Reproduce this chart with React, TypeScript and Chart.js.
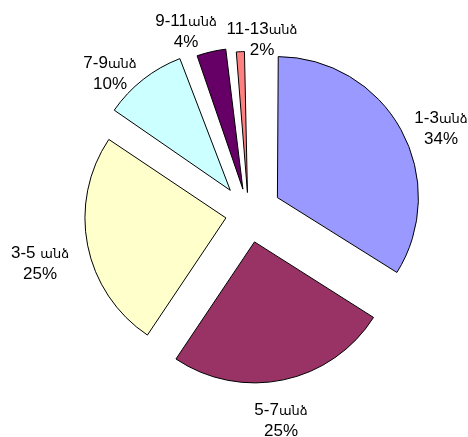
import React, { useEffect, useRef } from "react";
import { Chart, registerables } from "chart.js";

Chart.register(...registerables);

// ---- data ----
const categories = ["1-3անձ", "5-7անձ", "3-5 անձ", "7-9անձ", "9-11անձ", "11-13անձ"];
const values = [34, 25.4, 25, 10, 4, 1.6];
const colors = ["#9999FF", "#993366", "#FFFFCC", "#CCFFFF", "#660066", "#FF8080"];
// explosion distance of each slice (px)
const explode = [33, 29, 23, 29.5, 25, 21];
// label block centres (px, canvas coords)
const labelX = [441, 281, 40, 110, 186, 262];
const labelY = [127, 419, 262, 72, 30, 38];

const OFFSET_SCALE = 4; // chart.js ArcElement translates by offset / 4
const FONT = '17px "Liberation Sans", Arial, sans-serif';
const ARM_FONT = '13px "DejaVu Sans", sans-serif';
const LINE_H = 21;

const explodeFix = {
  id: "explodeFix",
  beforeDatasetsDraw(chart: any) {
    const meta = chart.getDatasetMeta(0);
    const R = meta.controller.outerRadius;
    meta.data.forEach((arc: any) => {
      const o = ((arc.options && arc.options.offset) || 0) / OFFSET_SCALE;
      const fix = 1 - Math.sin(Math.min(Math.PI, arc.circumference || 0));
      arc.outerRadius = R - o * fix;
    });
  },
};

function drawMixed(ctx: CanvasRenderingContext2D, text: string, cx: number, cy: number) {
  const parts = text.split(/([\u0530-\u058F]+)/).filter((p) => p.length > 0);
  const segs = parts.map((p) => {
    const font = /[\u0530-\u058F]/.test(p) ? ARM_FONT : FONT;
    ctx.font = font;
    return { p, font, w: ctx.measureText(p).width };
  });
  const total = segs.reduce((a, s) => a + s.w, 0);
  let x = cx - total / 2;
  ctx.textAlign = "left";
  ctx.textBaseline = "alphabetic";
  segs.forEach((s) => {
    ctx.font = s.font;
    ctx.fillText(s.p, x, cy + 6);
    x += s.w;
  });
}

const pieLabels = {
  id: "pieLabels",
  afterDraw(chart: any) {
    const ctx = chart.ctx;
    const total = values.reduce((a, b) => a + b, 0);
    ctx.save();
    ctx.fillStyle = "#000";
    categories.forEach((c, i) => {
      const pct = Math.round((values[i] / total) * 100) + "%";
      drawMixed(ctx, c, labelX[i], labelY[i] - LINE_H / 2);
      drawMixed(ctx, pct, labelX[i], labelY[i] + LINE_H / 2);
    });
    ctx.restore();
  },
};

export default function App() {
  const ref = useRef<HTMLCanvasElement>(null);
  useEffect(() => {
    if (!ref.current) return;
    const chart = new Chart(ref.current, {
      type: "pie",
      data: {
        labels: categories,
        datasets: [
          {
            data: values,
            backgroundColor: colors,
            borderColor: "#000",
            borderWidth: 1,
            offset: explode.map((d) => d * OFFSET_SCALE),
            radius: 141,
          } as any,
        ],
      },
      options: {
        responsive: false,
        animation: false,
        events: [],
        layout: { padding: { left: 29, right: 0, top: 0, bottom: 10 } },
        plugins: { legend: { display: false }, tooltip: { enabled: false } },
      },
      plugins: [explodeFix, pieLabels],
    });
    return () => chart.destroy();
  }, []);
  return (
    <div style={{ position: "absolute", left: 0, top: 0, width: 468, height: 437, background: "#fff" }}>
      <canvas ref={ref} width={468} height={437} style={{ display: "block" }} />
    </div>
  );
}
